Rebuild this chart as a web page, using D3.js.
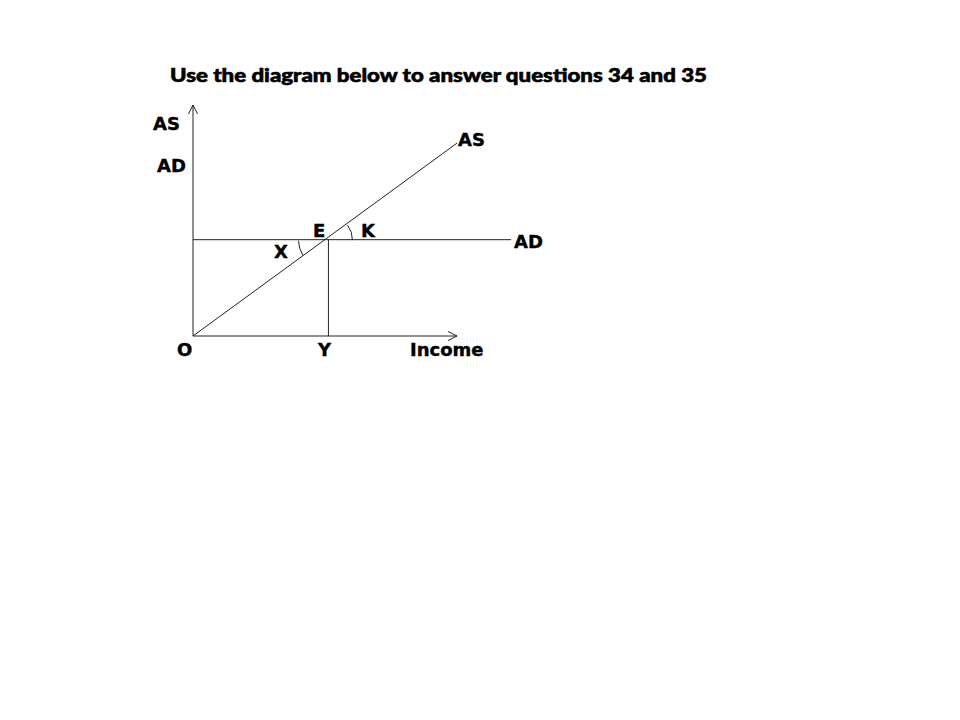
<!DOCTYPE html>
<html><head><meta charset="utf-8">
<script src="https://cdn.jsdelivr.net/npm/d3@7"></script>
<style>body{margin:0;background:#fff}svg{display:block}</style>
</head><body>
<svg id="c" width="960" height="720"></svg>
<script>
const title = "Use the diagram below to answer questions 34 and 35";
const axisMax = {x: 100, y: 100};
const equilibrium = {x: 51.3, y: 41.7};
const asLine = [[0, 0], [100, 83.5]];
const adLine = [[0, 41.7], [120.5, 41.7]];
const curveLabels = [
  {text: "AS", px: 458, py: 146},
  {text: "AD", px: 514, py: 248}
];
const axisLabels = [
  {text: "AS", px: 153, py: 130},
  {text: "AD", px: 157, py: 172},
  {text: "O", px: 177, py: 356},
  {text: "Y", px: 318, py: 356},
  {text: "Income", px: 410, py: 356}
];
const pointLabels = [
  {text: "E", px: 313, py: 237},
  {text: "K", px: 361, py: 237},
  {text: "X", px: 274, py: 258}
];

const svg = d3.select("#c");
const x = d3.scaleLinear().domain([0, axisMax.x]).range([193, 457]);
const y = d3.scaleLinear().domain([0, axisMax.y]).range([336, 105]);
const labelFont = "'DejaVu Sans', Verdana, sans-serif";
const stroke = "#222";

svg.append("text").attr("x", 170).attr("y", 82)
  .attr("font-family", "Lato, 'Open Sans', sans-serif").attr("font-weight", "900").attr("font-size", 19)
  .attr("textLength", 537).attr("lengthAdjust", "spacingAndGlyphs")
  .attr("fill", "#000").attr("stroke", "#000").attr("stroke-width", 0.6).text(title);

const line = d3.line().x(d => x(d[0])).y(d => y(d[1]));
const g = svg.append("g").attr("fill", "none").attr("stroke", stroke).attr("stroke-width", 1);

// axes
g.append("path").attr("d", line([[0, 0], [0, axisMax.y]]));
g.append("path").attr("d", line([[0, 0], [axisMax.x, 0]]));
// arrowheads
g.append("path").attr("d", `M${x(0)-4.5},${y(axisMax.y)+9} L${x(0)},${y(axisMax.y)} L${x(0)+4.5},${y(axisMax.y)+9}`);
g.append("path").attr("d", `M${x(axisMax.x)-9},${y(0)-4.5} L${x(axisMax.x)},${y(0)} L${x(axisMax.x)-9},${y(0)+4.5}`);

// curves
g.append("path").attr("d", line(asLine));
g.append("path").attr("d", line(adLine));
// drop line
g.append("path").attr("d", line([[equilibrium.x, equilibrium.y], [equilibrium.x, 0]]));

// angle arcs
const ex = x(equilibrium.x), ey = y(equilibrium.y);
const ang = Math.atan2(y(asLine[1][1]) - y(asLine[0][1]), x(asLine[1][0]) - x(asLine[0][0]));
const pX = d3.path();
pX.arc(ex, ey, 30, Math.PI + ang + 0.08, Math.PI - 0.03, false);
g.append("path").attr("d", pX.toString());
const pK = d3.path();
pK.arc(ex, ey, 24, ang - 0.02, 0.02, false);
g.append("path").attr("d", pK.toString());

const lbl = svg.append("g").attr("font-family", labelFont).attr("font-weight", "bold")
  .attr("font-size", 18).attr("fill", "#000").attr("stroke", "#000").attr("stroke-width", 0.4);
[...curveLabels, ...axisLabels, ...pointLabels].forEach(d =>
  lbl.append("text").attr("x", d.px).attr("y", d.py).text(d.text));
</script>
</body></html>
